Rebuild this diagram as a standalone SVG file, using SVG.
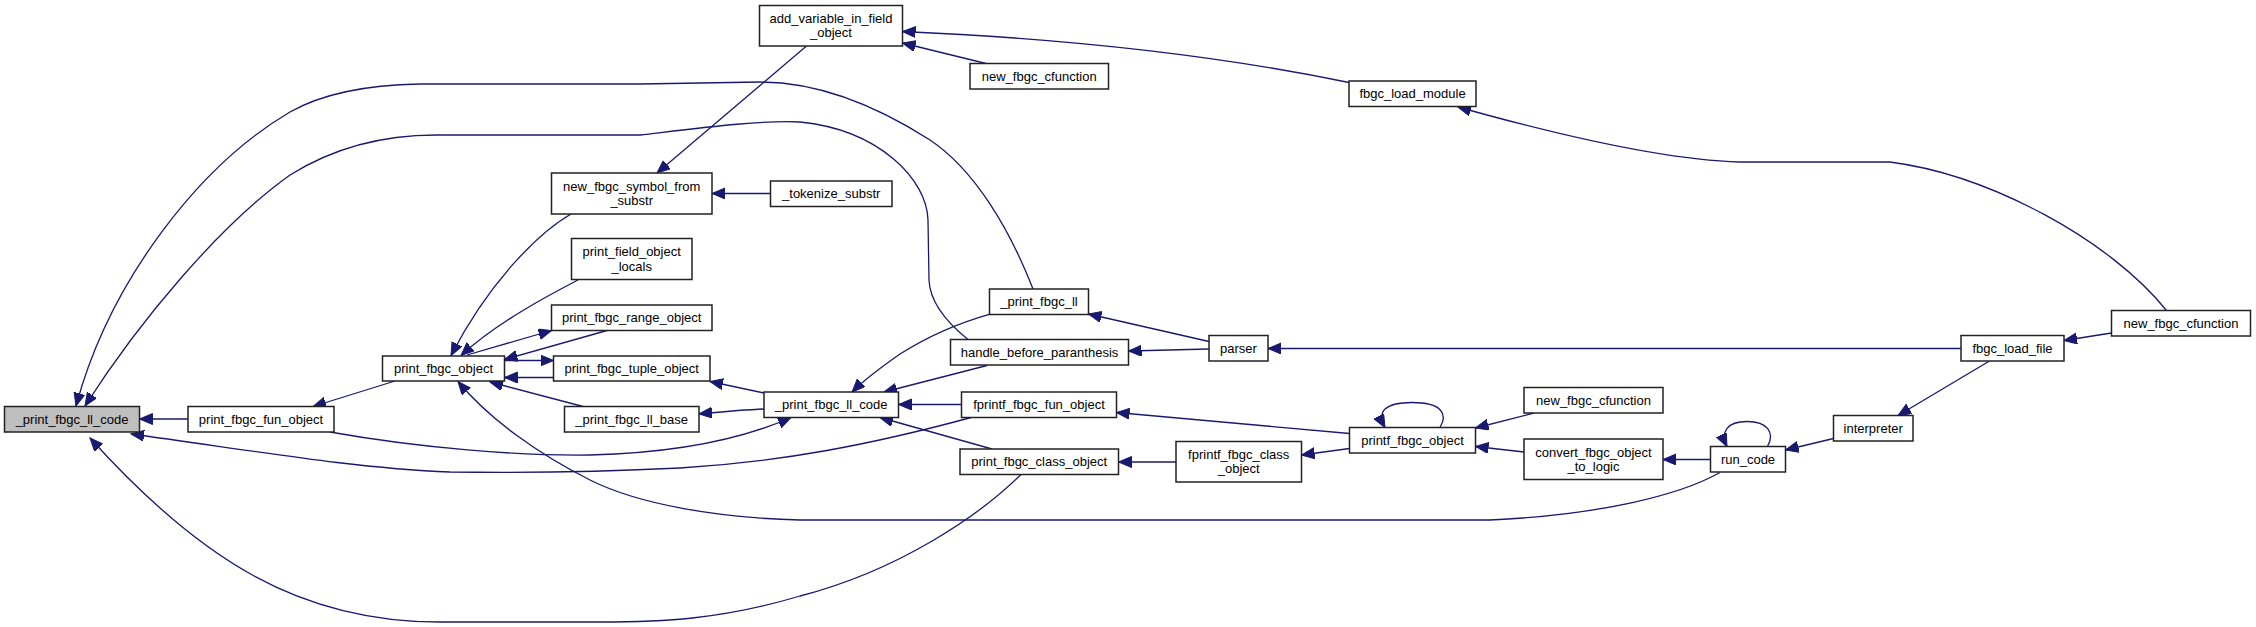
<svg xmlns="http://www.w3.org/2000/svg" width="2256" height="627" viewBox="0 0 2256 627">
<style>
.n rect{fill:#ffffff;stroke:#222222;stroke-width:1.5}
.n.root rect{fill:#bfbfbf}
.n text{font-family:"Liberation Sans",Arial,sans-serif;font-size:13px;fill:#000000;text-anchor:middle}
.e path{fill:none;stroke:#191970;stroke-width:1.3;marker-end:url(#a)}
</style>
<defs>
<marker id="a" markerUnits="userSpaceOnUse" markerWidth="15" markerHeight="12" refX="13" refY="5.5" orient="auto">
<path d="M0,0 L13,5.5 L0,11 z" fill="#191970" stroke="#191970" stroke-width="1"/>
</marker>
</defs>
<rect width="2256" height="627" fill="#ffffff"/>
<g id="edges" class="e">
<path d="M188,419 L139.5,419"/>
<path d="M1033,289 C1010,230 975,170 930,140 C880,108 820,82 760,82 L640,84 L420,84 C360,85 320,95 290,112 C200,165 110,280 76,406"/>
<path d="M968,339.5 C950,325 930,305 929,280 L928,220 C927,180 880,130 800,122 C760,120 700,128 640,135 L436,135 C380,135 330,150 290,175 C220,225 140,320 85,406"/>
<path d="M973,417 C870,445 780,462 680,468 C600,472 520,473 450,472 C350,468 250,450 131,434"/>
<path d="M1021,474.5 C980,515 900,570 800,596 C720,620 660,622 600,622 L440,622 C300,622 200,560 90,438"/>
<path d="M395,381 L313,406.5"/>
<path d="M571,214 C540,232 490,280 451,355.5"/>
<path d="M578,280 C555,292 500,320 461,355.5"/>
<path d="M467,355 L551.5,330.5"/>
<path d="M607,330.5 L504.5,359.5"/>
<path d="M504.5,360.5 L553.5,360.5"/>
<path d="M553.5,377.5 L504.5,377.5"/>
<path d="M583,406.5 L490,382"/>
<path d="M1720,472.5 C1680,495 1600,515 1490,520 L800,520 C720,518 640,505 590,480 C540,455 490,420 458,381.5"/>
<path d="M764,393 L710,381.5"/>
<path d="M764,409 C740,410 720,412 699,414"/>
<path d="M330,432 C420,448 520,456 590,455 C670,453 740,440 791,417.5"/>
<path d="M990,314 C955,324 925,338 900,354 C880,368 862,382 852,392"/>
<path d="M987,365.5 L884,392"/>
<path d="M961.5,404.5 L898.5,404.5"/>
<path d="M992,449 L880,417.5"/>
<path d="M1209,341.5 L1088.5,314"/>
<path d="M1209,349 L1128.5,351"/>
<path d="M1961,348.5 L1268,348.5"/>
<path d="M1349.5,433.5 L1116.5,412.5"/>
<path d="M1349.5,448.5 L1301.5,455"/>
<path d="M1176,462 L1118.5,462"/>
<path d="M1440,427.5 C1448,414 1442,402.5 1412,402.5 C1386,402.5 1376,411 1385,427.5"/>
<path d="M1534,413 L1475.5,428"/>
<path d="M1524,452 L1475.5,446.5"/>
<path d="M1710.5,459.5 L1663,459.5"/>
<path d="M1767.5,446.5 C1775,433 1768,421.5 1747,421.5 C1727,421.5 1720,432 1727,446.5"/>
<path d="M1833.5,438.5 L1785.5,450"/>
<path d="M1989.5,361 L1898,415.5"/>
<path d="M2111.5,333 L2064,340.5"/>
<path d="M2166.5,310.5 C2110,240 1990,175 1890,162 L1740,162 C1660,160 1540,130 1458,107"/>
<path d="M1349,82.5 C1250,62 1100,40 902.5,31.5"/>
<path d="M986,63.5 L902.5,43"/>
<path d="M806.5,46 L657,173"/>
<path d="M770.5,193.5 L712,193.5"/>
</g>
<g id="n_root" class="n root"><rect x="4.5" y="406.5" width="135" height="25.5"/><text x="72" y="423.7">_print_fbgc_ll_code</text></g>
<g id="n_print_fbgc_fun_object" class="n"><rect x="188" y="406.5" width="146" height="25.5"/><text x="261" y="423.7">print_fbgc_fun_object</text></g>
<g id="n_print_fbgc_object" class="n"><rect x="382.5" y="356" width="122" height="25"/><text x="443.5" y="373">print_fbgc_object</text></g>
<g id="n_new_fbgc_symbol_from_substr" class="n"><rect x="551.5" y="173" width="160.5" height="41"/><text x="631.7" y="190.8">new_fbgc_symbol_from</text><text x="631.7" y="205.2">_substr</text></g>
<g id="n_print_field_object_locals" class="n"><rect x="571.5" y="238.5" width="120.5" height="41"/><text x="631.7" y="256.3">print_field_object</text><text x="631.7" y="270.7">_locals</text></g>
<g id="n_print_fbgc_range_object" class="n"><rect x="551.5" y="305" width="160.5" height="25.5"/><text x="631.7" y="322.2">print_fbgc_range_object</text></g>
<g id="n_print_fbgc_tuple_object" class="n"><rect x="553.5" y="356" width="156.5" height="25"/><text x="631.7" y="373">print_fbgc_tuple_object</text></g>
<g id="n_print_fbgc_ll_base" class="n"><rect x="564.5" y="406.5" width="134.5" height="25.5"/><text x="631.7" y="423.7">_print_fbgc_ll_base</text></g>
<g id="n_add_variable_in_field_object" class="n"><rect x="759.5" y="5.5" width="143" height="40.5"/><text x="831" y="23">add_variable_in_field</text><text x="831" y="37.4">_object</text></g>
<g id="n_new_fbgc_cfunction_1" class="n"><rect x="970" y="63.5" width="138.5" height="25.5"/><text x="1039.2" y="80.7">new_fbgc_cfunction</text></g>
<g id="n_tokenize_substr" class="n"><rect x="770.5" y="181" width="121.5" height="25.5"/><text x="831.2" y="198.2">_tokenize_substr</text></g>
<g id="n_fbgc_load_module" class="n"><rect x="1349" y="81" width="127" height="25.5"/><text x="1412.5" y="98.2">fbgc_load_module</text></g>
<g id="n_print_fbgc_ll" class="n"><rect x="989.5" y="289" width="99" height="25.5"/><text x="1039" y="306.2">_print_fbgc_ll</text></g>
<g id="n_handle_before_paranthesis" class="n"><rect x="950.5" y="339.5" width="178" height="25.5"/><text x="1039.5" y="356.7">handle_before_paranthesis</text></g>
<g id="n_print_fbgc_ll_code_2" class="n"><rect x="764" y="392" width="134.5" height="25.5"/><text x="831.2" y="409.2">_print_fbgc_ll_code</text></g>
<g id="n_fprintf_fbgc_fun_object" class="n"><rect x="961.5" y="392" width="155" height="25.5"/><text x="1039" y="409.2">fprintf_fbgc_fun_object</text></g>
<g id="n_print_fbgc_class_object" class="n"><rect x="960" y="449" width="158.5" height="25.5"/><text x="1039.2" y="466.2">print_fbgc_class_object</text></g>
<g id="n_parser" class="n"><rect x="1209" y="335.5" width="59" height="25.5"/><text x="1238.5" y="352.7">parser</text></g>
<g id="n_fprintf_fbgc_class_object" class="n"><rect x="1176" y="441.5" width="125.5" height="40.5"/><text x="1238.7" y="459">fprintf_fbgc_class</text><text x="1238.7" y="473.4">_object</text></g>
<g id="n_printf_fbgc_object" class="n"><rect x="1349.5" y="427.5" width="126" height="25.5"/><text x="1412.5" y="444.7">printf_fbgc_object</text></g>
<g id="n_new_fbgc_cfunction_2" class="n"><rect x="1524" y="387.5" width="139" height="25.5"/><text x="1593.5" y="404.7">new_fbgc_cfunction</text></g>
<g id="n_convert_fbgc_object_to_logic" class="n"><rect x="1524" y="439" width="139" height="40.5"/><text x="1593.5" y="456.5">convert_fbgc_object</text><text x="1593.5" y="470.9">_to_logic</text></g>
<g id="n_run_code" class="n"><rect x="1710.5" y="446.5" width="75" height="25.5"/><text x="1748" y="463.7">run_code</text></g>
<g id="n_interpreter" class="n"><rect x="1833.5" y="415.5" width="79.5" height="25.5"/><text x="1873.2" y="432.7">interpreter</text></g>
<g id="n_fbgc_load_file" class="n"><rect x="1961" y="335.5" width="103" height="25.5"/><text x="2012.5" y="352.7">fbgc_load_file</text></g>
<g id="n_new_fbgc_cfunction_3" class="n"><rect x="2111.5" y="310.5" width="139" height="25.5"/><text x="2181" y="327.7">new_fbgc_cfunction</text></g>
</svg>
